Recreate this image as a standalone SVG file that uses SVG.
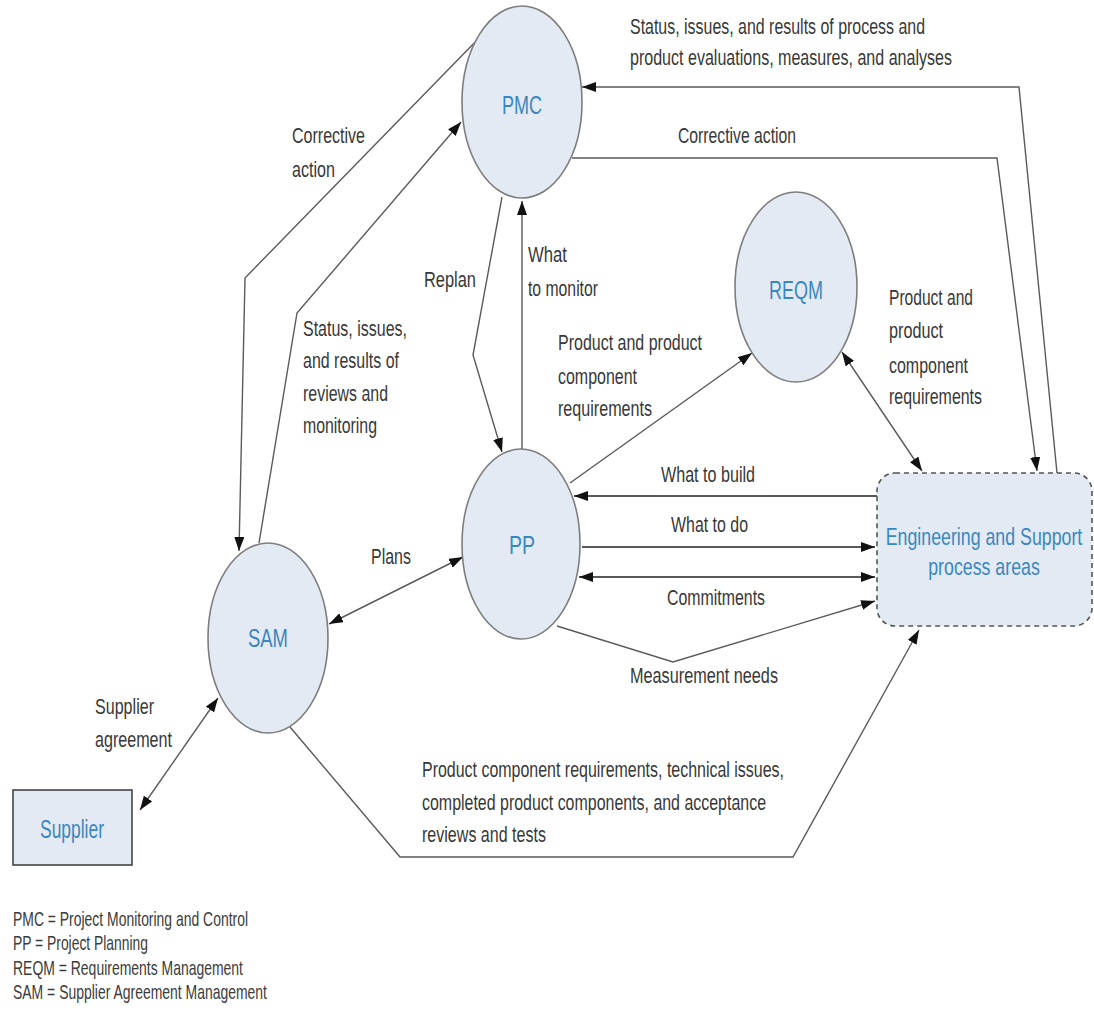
<svg xmlns="http://www.w3.org/2000/svg" width="1094" height="1012" viewBox="0 0 1094 1012">
<style>
.bg{fill:#ffffff}
.node{fill:#e4eaf4;stroke:#7d7d7d;stroke-width:1.6}
.box{fill:#e4eaf4;stroke:#444;stroke-width:1.6}
.dbox{fill:#e4eaf4;stroke:#555;stroke-width:1.6;stroke-dasharray:5 4}
.nt{font-family:"Liberation Sans Narrow","Liberation Sans",Arial,sans-serif;font-size:26px;fill:#3a87c0;text-anchor:middle}
.et{font-family:"Liberation Sans",Arial,sans-serif;font-size:24px;fill:#3a87c0;text-anchor:middle}
.lb{font-family:"Liberation Sans Narrow","Liberation Sans",Arial,sans-serif;font-size:22px;fill:#383838}
.lg{font-family:"Liberation Sans Narrow","Liberation Sans",Arial,sans-serif;font-size:21px;fill:#3c3c3c}
.ln{fill:none;stroke:#5a5a5a;stroke-width:1.4}
.dk{fill:none;stroke:#222;stroke-width:1.7}
</style>
<defs>
<marker id="ah" viewBox="0 0 14 10" markerWidth="14" markerHeight="10" refX="14" refY="5" orient="auto-start-reverse" markerUnits="userSpaceOnUse">
<path d="M0,0 L14,5 L0,10 z" fill="#111"/>
</marker>
</defs>
<rect class="bg" x="0" y="0" width="1094" height="1012"/>

<g id="connectors">
<path class="ln" d="M482,35 L245,278 L239,551" marker-end="url(#ah)"/>
<path class="ln" d="M259,543 L297,313 L461,122" marker-end="url(#ah)"/>
<path class="ln" d="M502,197 L473,355 L502,452" marker-end="url(#ah)"/>
<path class="ln" d="M522,449 L522,201" marker-end="url(#ah)"/>
<path class="ln" d="M570,483 L752,353" marker-end="url(#ah)"/>
<path class="ln" d="M842,352 L922,471" marker-start="url(#ah)" marker-end="url(#ah)"/>
<path class="ln" d="M572,158 L997,158 L1037,471" marker-end="url(#ah)"/>
<path class="ln" d="M1057,473 L1019,87 L582,87" marker-end="url(#ah)"/>
<path class="dk" d="M877,496 L574,496" marker-end="url(#ah)"/>
<path class="dk" d="M582,547 L875,547" marker-end="url(#ah)"/>
<path class="dk" d="M579,577 L875,577" marker-start="url(#ah)" marker-end="url(#ah)"/>
<path class="ln" d="M557,626 L673,662 L875,601" marker-end="url(#ah)"/>
<path class="ln" d="M329,624 L463,557" marker-start="url(#ah)" marker-end="url(#ah)"/>
<path class="ln" d="M218,698 L140,810" marker-start="url(#ah)" marker-end="url(#ah)"/>
<path class="ln" d="M290,727 L400,857 L793,857 L919,630" marker-end="url(#ah)"/>
</g>

<g id="node-pmc">
<ellipse class="node" cx="522" cy="102" rx="60" ry="96"/>
<text class="nt" x="522" y="114" textLength="40" lengthAdjust="spacingAndGlyphs">PMC</text>
</g>
<g id="node-reqm">
<ellipse class="node" cx="796" cy="287" rx="61" ry="95"/>
<text class="nt" x="796" y="299" textLength="54" lengthAdjust="spacingAndGlyphs">REQM</text>
</g>
<g id="node-pp">
<ellipse class="node" cx="521" cy="544" rx="59" ry="95"/>
<text class="nt" x="522" y="554" textLength="26" lengthAdjust="spacingAndGlyphs">PP</text>
</g>
<g id="node-sam">
<ellipse class="node" cx="268" cy="638" rx="60" ry="95"/>
<text class="nt" x="268" y="647" textLength="40" lengthAdjust="spacingAndGlyphs">SAM</text>
</g>
<g id="node-supplier">
<rect class="box" x="13" y="790" width="119" height="75"/>
<text class="nt" x="72" y="838" textLength="64" lengthAdjust="spacingAndGlyphs">Supplier</text>
</g>
<g id="node-eng">
<rect class="dbox" x="877" y="473" width="215" height="153" rx="18" ry="18"/>
<g transform="translate(984,0) scale(0.74,1)">
<text class="et" x="0" y="545">Engineering and Support</text>
<text class="et" x="0" y="575">process areas</text>
</g>
</g>

<g id="labels">
<text class="lb" x="630" y="34" textLength="295" lengthAdjust="spacingAndGlyphs">Status, issues, and results of process and</text>
<text class="lb" x="630" y="65" textLength="322" lengthAdjust="spacingAndGlyphs">product evaluations, measures, and analyses</text>
<text class="lb" x="678" y="143" textLength="118" lengthAdjust="spacingAndGlyphs">Corrective action</text>
<text class="lb" x="292" y="143" textLength="73" lengthAdjust="spacingAndGlyphs">Corrective</text>
<text class="lb" x="292" y="177" textLength="43" lengthAdjust="spacingAndGlyphs">action</text>
<text class="lb" x="424" y="287" textLength="52" lengthAdjust="spacingAndGlyphs">Replan</text>
<text class="lb" x="528" y="262" textLength="39" lengthAdjust="spacingAndGlyphs">What</text>
<text class="lb" x="528" y="296" textLength="70" lengthAdjust="spacingAndGlyphs">to monitor</text>
<text class="lb" x="303" y="336" textLength="104" lengthAdjust="spacingAndGlyphs">Status, issues,</text>
<text class="lb" x="303" y="368" textLength="96" lengthAdjust="spacingAndGlyphs">and results of</text>
<text class="lb" x="303" y="401" textLength="85" lengthAdjust="spacingAndGlyphs">reviews and</text>
<text class="lb" x="303" y="433" textLength="74" lengthAdjust="spacingAndGlyphs">monitoring</text>
<text class="lb" x="558" y="350" textLength="144" lengthAdjust="spacingAndGlyphs">Product and product</text>
<text class="lb" x="558" y="384" textLength="79" lengthAdjust="spacingAndGlyphs">component</text>
<text class="lb" x="558" y="416" textLength="94" lengthAdjust="spacingAndGlyphs">requirements</text>
<text class="lb" x="889" y="305" textLength="84" lengthAdjust="spacingAndGlyphs">Product and</text>
<text class="lb" x="889" y="338" textLength="54" lengthAdjust="spacingAndGlyphs">product</text>
<text class="lb" x="889" y="373" textLength="79" lengthAdjust="spacingAndGlyphs">component</text>
<text class="lb" x="889" y="404" textLength="93" lengthAdjust="spacingAndGlyphs">requirements</text>
<text class="lb" x="661" y="482" textLength="94" lengthAdjust="spacingAndGlyphs">What to build</text>
<text class="lb" x="671" y="532" textLength="77" lengthAdjust="spacingAndGlyphs">What to do</text>
<text class="lb" x="667" y="605" textLength="98" lengthAdjust="spacingAndGlyphs">Commitments</text>
<text class="lb" x="630" y="683" textLength="148" lengthAdjust="spacingAndGlyphs">Measurement needs</text>
<text class="lb" x="371" y="564" textLength="40" lengthAdjust="spacingAndGlyphs">Plans</text>
<text class="lb" x="95" y="714" textLength="59" lengthAdjust="spacingAndGlyphs">Supplier</text>
<text class="lb" x="95" y="747" textLength="77" lengthAdjust="spacingAndGlyphs">agreement</text>
<text class="lb" x="422" y="777" textLength="362" lengthAdjust="spacingAndGlyphs">Product component requirements, technical issues,</text>
<text class="lb" x="422" y="810" textLength="344" lengthAdjust="spacingAndGlyphs">completed product components, and acceptance</text>
<text class="lb" x="422" y="842" textLength="124" lengthAdjust="spacingAndGlyphs">reviews and tests</text>
</g>

<g id="legend">
<text class="lg" x="13" y="926" textLength="235" lengthAdjust="spacingAndGlyphs">PMC = Project Monitoring and Control</text>
<text class="lg" x="13" y="950" textLength="135" lengthAdjust="spacingAndGlyphs">PP = Project Planning</text>
<text class="lg" x="13" y="975" textLength="230" lengthAdjust="spacingAndGlyphs">REQM = Requirements Management</text>
<text class="lg" x="13" y="999" textLength="254" lengthAdjust="spacingAndGlyphs">SAM = Supplier Agreement Management</text>
</g>
</svg>
